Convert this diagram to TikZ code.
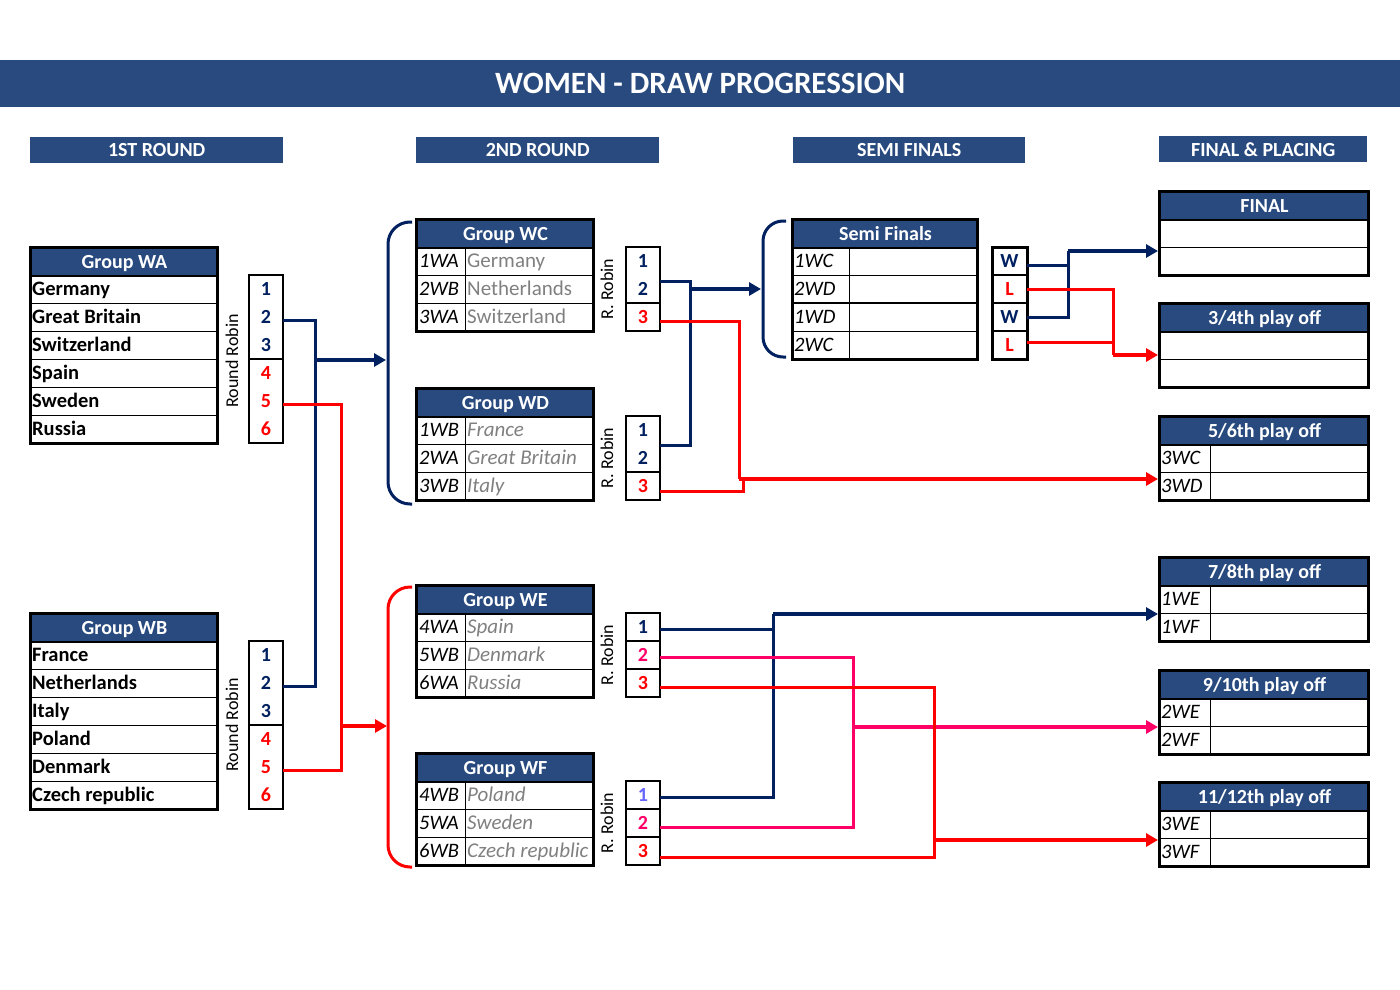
\documentclass[tikz,border=0pt]{standalone}
\usepackage{fontspec}
\setmainfont{Carlito}
\usetikzlibrary{arrows.meta}
\definecolor{hdrblue}{RGB}{40,74,126}
\definecolor{dblue}{RGB}{0,32,96}
\definecolor{rred}{RGB}{255,0,0}
\definecolor{mypink}{RGB}{255,0,102}
\definecolor{lilac}{RGB}{102,102,255}
\definecolor{namegray}{RGB}{128,128,128}
\newcommand\FS[1]{\fontsize{#1}{#1}\selectfont}
\tikzset{
 colh/.style={fill=hdrblue, text=white, font=\bfseries\FS{20}, minimum height=26, inner sep=0, anchor=north west},
 thd/.style={fill=hdrblue, text=white, font=\bfseries\FS{20}, minimum height=28, inner sep=0, anchor=north west, draw=black, line width=2, text height=12pt, text depth=0pt},
 cell/.style={draw=black, line width=1.2, minimum height=28, inner sep=0, anchor=north west},
 ctxt/.style={anchor=west, inner sep=0, font=\bfseries\FS{20.5}, text height=12.5pt, text depth=0pt},
 code/.style={anchor=west, inner sep=0, font=\itshape\FS{20.5}, text height=12.5pt, text depth=0pt},
 gname/.style={anchor=west, inner sep=0, font=\FS{21}, text=namegray, text height=12.5pt, text depth=0pt},
 giname/.style={anchor=west, inner sep=0, font=\itshape\FS{21}, text=namegray, text height=12.5pt, text depth=0pt},
 outer/.style={draw=black, line width=3},
 thin/.style={draw=black, line width=1.2},
 rrn/.style={minimum width=34, minimum height=28, inner sep=0, font=\bfseries\FS{20}, text height=12.5pt, text depth=0pt},
 rrlab/.style={rotate=90, font=\FS{18}, inner sep=0},
 bline/.style={draw=dblue, line width=3},
 rline/.style={draw=rred, line width=3},
 pline/.style={draw=mypink, line width=3},
 barr/.style={draw=dblue, line width=3.5, -{Triangle[length=12pt,width=13pt]}},
 rarr/.style={draw=rred, line width=3.5, -{Triangle[length=12pt,width=13pt]}},
 parr/.style={draw=mypink, line width=3.5, -{Triangle[length=12pt,width=13pt]}},
 bracketb/.style={draw=dblue, line width=3, rounded corners=22pt},
 bracketr/.style={draw=rred, line width=3, rounded corners=22pt},
}
\newcommand\POtab[5]{%
 \node[thd, minimum width=209] (#1) at (1159,#2) {#3};
 \node[cell, minimum width=51] (#1-c1) at (1159,#2+28) {};
 \node[cell, minimum width=158] (#1-b1) at (1210,#2+28) {};
 \node[cell, minimum width=51] (#1-c2) at (1159,#2+56) {};
 \node[cell, minimum width=158] (#1-b2) at (1210,#2+56) {};
 \node[code] (#1-t1) at ([xshift=2pt]#1-c1.west) {#4};
 \node[code] (#1-t2) at ([xshift=2pt]#1-c2.west) {#5};
 \draw[outer] (1159,#2) rectangle (1368,#2+84);
}
\newcommand\PObl[3]{%
 \node[thd, minimum width=209] (#1) at (1159,#2) {#3};
 \node[cell, minimum width=209] (#1-b1) at (1159,#2+28) {};
 \node[cell, minimum width=209] (#1-b2) at (1159,#2+56) {};
 \draw[outer] (1159,#2) rectangle (1368,#2+84);
}
\begin{document}
\begin{tikzpicture}[x=1pt,y=-1pt]
\useasboundingbox (0,0) rectangle (1400,990);
% title
\node[fill=hdrblue, minimum width=1400, minimum height=47, anchor=north west, inner sep=0, text=white, font=\bfseries\FS{31}] (title) at (0,60) {WOMEN - DRAW PROGRESSION};
% column headers
\node[colh, minimum width=253] (c1) at (30,137) {1ST ROUND};
\node[colh, minimum width=243] (c2) at (416,137) {2ND ROUND};
\node[colh, minimum width=232] (c3) at (793,137) {SEMI FINALS};
\node[colh, minimum width=208] (c4) at (1159,136) {FINAL \& PLACING};

% ---------- Group WA
\node[thd, minimum width=187] (wa) at (30,247) {Group WA};
\foreach \t [count=\i] in {Germany,Great Britain,Switzerland,Spain,Sweden,Russia}{
  \node[cell, minimum width=187] (wa-\i) at (30,{247+28*\i}) {};
  \node[ctxt] (wa-\i-t) at ([xshift=2pt]wa-\i.west) {\t};
}
\draw[outer] (30,247) rectangle (217,443);
\draw[thin] (249,275) rectangle (283,443);
\draw[thin] (249,359) -- (283,359);
\foreach \n/\c [count=\i] in {1/dblue,2/dblue,3/dblue,4/rred,5/rred,6/rred}
  \node[rrn, text=\c] (wa-r\i) at (266,{261+28*\i}) {\n};
\node[rrlab] (wa-lab) at (232,361) {Round Robin};

% ---------- Group WB
\node[thd, minimum width=187] (wb) at (30,613) {Group WB};
\foreach \t [count=\i] in {France,Netherlands,Italy,Poland,Denmark,Czech republic}{
  \node[cell, minimum width=187] (wb-\i) at (30,{613+28*\i}) {};
  \node[ctxt] (wb-\i-t) at ([xshift=2pt]wb-\i.west) {\t};
}
\draw[outer] (30,613) rectangle (217,809);
\draw[thin] (249,641) rectangle (283,809);
\draw[thin] (249,725) -- (283,725);
\foreach \n/\c [count=\i] in {1/dblue,2/dblue,3/dblue,4/rred,5/rred,6/rred}
  \node[rrn, text=\c] (wb-r\i) at (266,{627+28*\i}) {\n};
\node[rrlab] (wb-lab) at (232,725) {Round Robin};

% ---------- Group WC
\node[thd, minimum width=177] (wc) at (416,219) {Group WC};
\foreach \c/\n [count=\i] in {1WA/Germany,2WB/Netherlands,3WA/Switzerland}{
  \node[cell, minimum width=49] (wc-c\i) at (416,{219+28*\i}) {};
  \node[cell, minimum width=128] (wc-n\i) at (465,{219+28*\i}) {};
  \node[code] (wc-c\i-t) at ([xshift=3pt]wc-c\i.west) {\c};
  \node[gname] (wc-n\i-t) at ([xshift=2pt]wc-n\i.west) {\n};
}
\draw[outer] (416,219) rectangle (593,331);
\draw[thin] (626,247) rectangle (660,331);
\draw[thin] (626,303) -- (660,303);
\foreach \n/\c [count=\i] in {1/dblue,2/dblue,3/rred}
  \node[rrn, text=\c] (wc-r\i) at (643,{233+28*\i}) {\n};
\node[rrlab] (wc-lab) at (607,289) {R. Robin};

% ---------- Group WD
\node[thd, minimum width=177] (wd) at (416,388) {Group WD};
\foreach \c/\n [count=\i] in {1WB/France,2WA/Great Britain,3WB/Italy}{
  \node[cell, minimum width=49] (wd-c\i) at (416,{388+28*\i}) {};
  \node[cell, minimum width=128] (wd-n\i) at (465,{388+28*\i}) {};
  \node[code] (wd-c\i-t) at ([xshift=3pt]wd-c\i.west) {\c};
  \node[giname] (wd-n\i-t) at ([xshift=2pt]wd-n\i.west) {\n};
}
\draw[outer] (416,388) rectangle (593,500);
\draw[thin] (626,416) rectangle (660,500);
\draw[thin] (626,472) -- (660,472);
\foreach \n/\c [count=\i] in {1/dblue,2/dblue,3/rred}
  \node[rrn, text=\c] (wd-r\i) at (643,{402+28*\i}) {\n};
\node[rrlab] (wd-lab) at (607,458) {R. Robin};

% ---------- Group WE
\node[thd, minimum width=177] (we) at (416,585) {Group WE};
\foreach \c/\n [count=\i] in {4WA/Spain,5WB/Denmark,6WA/Russia}{
  \node[cell, minimum width=49] (we-c\i) at (416,{585+28*\i}) {};
  \node[cell, minimum width=128] (we-n\i) at (465,{585+28*\i}) {};
  \node[code] (we-c\i-t) at ([xshift=3pt]we-c\i.west) {\c};
  \node[giname] (we-n\i-t) at ([xshift=2pt]we-n\i.west) {\n};
}
\draw[outer] (416,585) rectangle (593,697);
\draw[thin] (626,613) rectangle (660,697);
\draw[thin] (626,641) -- (660,641);
\draw[thin] (626,669) -- (660,669);
\foreach \n/\c [count=\i] in {1/dblue,2/mypink,3/rred}
  \node[rrn, text=\c] (we-r\i) at (643,{599+28*\i}) {\n};
\node[rrlab] (we-lab) at (607,655) {R. Robin};

% ---------- Group WF
\node[thd, minimum width=177] (wf) at (416,753) {Group WF};
\foreach \c/\n [count=\i] in {4WB/Poland,5WA/Sweden,6WB/Czech republic}{
  \node[cell, minimum width=49] (wf-c\i) at (416,{753+28*\i}) {};
  \node[cell, minimum width=128] (wf-n\i) at (465,{753+28*\i}) {};
  \node[code] (wf-c\i-t) at ([xshift=3pt]wf-c\i.west) {\c};
  \node[giname] (wf-n\i-t) at ([xshift=2pt]wf-n\i.west) {\n};
}
\draw[outer] (416,753) rectangle (593,865);
\draw[thin] (626,781) rectangle (660,865);
\draw[thin] (626,809) -- (660,809);
\draw[thin] (626,837) -- (660,837);
\foreach \n/\c [count=\i] in {1/lilac,2/mypink,3/rred}
  \node[rrn, text=\c] (wf-r\i) at (643,{767+28*\i}) {\n};
\node[rrlab] (wf-lab) at (607,823) {R. Robin};

% ---------- Semi finals
\node[thd, minimum width=185] (sf) at (792,219) {Semi Finals};
\foreach \c [count=\i] in {1WC,2WD,1WD,2WC}{
  \node[cell, minimum width=57] (sf-c\i) at (792,{219+28*\i}) {};
  \node[cell, minimum width=128] (sf-b\i) at (849,{219+28*\i}) {};
  \node[code] (sf-c\i-t) at ([xshift=2pt]sf-c\i.west) {\c};
}
\draw[draw=black, line width=2.5] (792,303) -- (977,303);
\draw[outer] (792,219) rectangle (977,359);
% W/L box
\draw[thin] (992,275) -- (1027,275);
\draw[thin] (992,303) -- (1027,303);
\draw[thin] (992,331) -- (1027,331);
\draw[outer] (992,247) rectangle (1027,359);
\foreach \n/\c [count=\i] in {W/dblue,L/rred,W/dblue,L/rred}
  \node[rrn, minimum width=35, text=\c] (wl-\i) at (1009.5,{233+28*\i}) {\n};

% ---------- Final & placings
\PObl{fin}{191}{FINAL}
\PObl{p34}{303}{3/4th play off}
\POtab{p56}{416}{5/6th play off}{3WC}{3WD}
\POtab{p78}{557}{7/8th play off}{1WE}{1WF}
\POtab{p910}{670}{9/10th play off}{2WE}{2WF}
\POtab{p1112}{782}{11/12th play off}{3WE}{3WF}

% ---------- brackets
\draw[bracketb] (412,222) -- (388,222) -- (388,504) -- (412,504);
\draw[bracketr] (412,587) -- (388,587) -- (388,867) -- (412,867);
\draw[draw=dblue, line width=3, rounded corners=20pt] (786,221) -- (763,221) -- (763,357) -- (786,357);

% ---------- junction / target coordinates
\coordinate (jA) at (315,360);
\coordinate (bC) at (386,360);
\coordinate (jB) at (341,726);
\coordinate (bE) at (387,726);
\coordinate (jC) at (690,289);
\coordinate (bS) at (761,289);
\coordinate (jD) at (739,479);
\coordinate (jD2) at (743,479);
\coordinate (t56) at (1158,479);
\coordinate (jW) at (1068,251);
\coordinate (tF) at (1158,251);
\coordinate (jL) at (1113,355);
\coordinate (t34) at (1158,355);
\coordinate (jE1) at (773,614);
\coordinate (t78) at (1158,614);
\coordinate (jP) at (853,727);
\coordinate (t910) at (1158,727);
\coordinate (jR) at (934,840);
\coordinate (t1112) at (1158,840);

% ---------- connectors, first round
\draw[bline] ([yshift=-3pt]wa-r2.east) -| ([xshift=32pt,yshift=-3pt]wb-r2.east) -- ([yshift=-3pt]wb-r2.east);
\draw[barr] (jA) -- (bC);
\draw[rline] ([yshift=-3pt]wa-r5.east) -| ([xshift=58pt,yshift=-3pt]wb-r5.east) -- ([yshift=-3pt]wb-r5.east);
\draw[rarr] (jB) -- (bE);

% ---------- connectors, second round top
\draw[bline] ([yshift=8pt]wc-r2.east) -| ([xshift=30pt,yshift=-15pt]wd-r1.east) -- ([yshift=-15pt]wd-r1.east);
\draw[barr] (jC) -- (bS);
\draw[rline] ([yshift=-4pt]wc-r3.east) -| (jD);
\draw[rline] ([yshift=-5pt]wd-r3.east) -| (jD2);
\draw[rarr] (jD) -- (t56);

% ---------- connectors, semi finals
\draw[bline] ([yshift=-4pt]wl-1.east) -| (jW);
\draw[bline] (wl-3.east) -| (jW);
\draw[barr] (jW) -- (tF);
\draw[rline] (wl-2.east) -| (jL);
\draw[rline] ([yshift=3pt]wl-4.east) -| (jL);
\draw[rarr] (jL) -- (t34);

% ---------- connectors, second round bottom
\draw[bline] ([yshift=-2pt]we-r1.east) -| (jE1);
\draw[bline] ([yshift=-2pt]wf-r1.east) -| (jE1);
\draw[barr] (jE1) -- (t78);
\draw[pline] ([yshift=-2pt]we-r2.east) -| (jP);
\draw[pline] ([yshift=-4pt]wf-r2.east) -| (jP);
\draw[parr] (jP) -- (t910);
\draw[rline] ([yshift=-4pt]we-r3.east) -| (jR);
\draw[rline] ([yshift=-6pt]wf-r3.east) -| (jR);
\draw[rarr] (jR) -- (t1112);
\end{tikzpicture}
\end{document}
